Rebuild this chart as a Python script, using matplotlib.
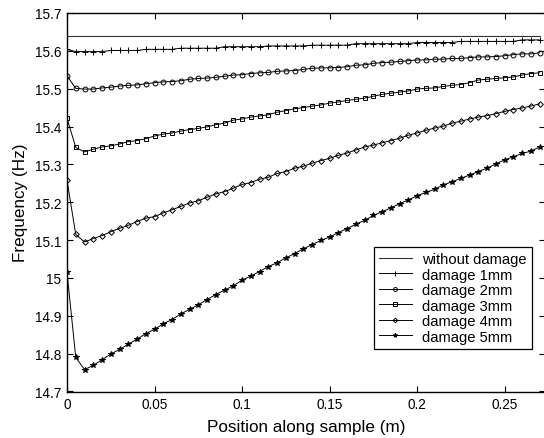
import matplotlib
matplotlib.use('Agg')
import matplotlib.pyplot as plt
from matplotlib.ticker import FormatStrFormatter, MultipleLocator

plt.rcParams['font.family'] = ['Liberation Sans', 'DejaVu Sans']

# Positions along the sample (m), 55 measurement points
position = [0.000, 0.005, 0.010, 0.015, 0.020, 0.025, 0.030, 0.035, 0.040, 0.045,
            0.050, 0.055, 0.060, 0.065, 0.070, 0.075, 0.080, 0.085, 0.090, 0.095,
            0.100, 0.105, 0.110, 0.115, 0.120, 0.125, 0.130, 0.135, 0.140, 0.145,
            0.150, 0.155, 0.160, 0.165, 0.170, 0.175, 0.180, 0.185, 0.190, 0.195,
            0.200, 0.205, 0.210, 0.215, 0.220, 0.225, 0.230, 0.235, 0.240, 0.245,
            0.250, 0.255, 0.260, 0.265, 0.270]

# Frequency without damage (Hz)
f_intact = 15.640

f_1mm = [15.604, 15.598, 15.598, 15.598, 15.598, 15.601, 15.601, 15.601, 15.601, 15.604,
         15.604, 15.604, 15.604, 15.607, 15.607, 15.607, 15.607, 15.607, 15.611, 15.611,
         15.611, 15.611, 15.611, 15.613, 15.613, 15.613, 15.613, 15.613, 15.615, 15.615,
         15.615, 15.615, 15.615, 15.619, 15.619, 15.619, 15.619, 15.619, 15.619, 15.619,
         15.622, 15.622, 15.622, 15.622, 15.622, 15.625, 15.625, 15.625, 15.625, 15.625,
         15.625, 15.625, 15.629, 15.629, 15.629]

f_2mm = [15.534, 15.501, 15.499, 15.499, 15.502, 15.504, 15.507, 15.509, 15.510, 15.513,
         15.516, 15.518, 15.519, 15.521, 15.525, 15.527, 15.528, 15.530, 15.533, 15.536,
         15.537, 15.540, 15.542, 15.543, 15.546, 15.547, 15.548, 15.551, 15.554, 15.555,
         15.555, 15.556, 15.558, 15.562, 15.563, 15.567, 15.569, 15.570, 15.572, 15.574,
         15.576, 15.576, 15.578, 15.578, 15.580, 15.580, 15.582, 15.584, 15.584, 15.585,
         15.587, 15.590, 15.592, 15.592, 15.595]

f_3mm = [15.422, 15.345, 15.333, 15.340, 15.346, 15.349, 15.354, 15.360, 15.363, 15.368,
         15.375, 15.380, 15.383, 15.388, 15.392, 15.395, 15.399, 15.405, 15.409, 15.417,
         15.420, 15.425, 15.428, 15.431, 15.438, 15.442, 15.447, 15.450, 15.454, 15.457,
         15.462, 15.465, 15.469, 15.472, 15.475, 15.480, 15.485, 15.488, 15.491, 15.494,
         15.499, 15.501, 15.502, 15.506, 15.509, 15.511, 15.516, 15.523, 15.525, 15.527,
         15.529, 15.531, 15.536, 15.540, 15.542]

f_4mm = [15.258, 15.115, 15.095, 15.104, 15.112, 15.122, 15.131, 15.139, 15.149, 15.158,
         15.162, 15.172, 15.180, 15.189, 15.198, 15.204, 15.213, 15.222, 15.228, 15.237,
         15.247, 15.252, 15.261, 15.266, 15.276, 15.281, 15.290, 15.295, 15.303, 15.310,
         15.316, 15.324, 15.330, 15.338, 15.346, 15.351, 15.357, 15.363, 15.369, 15.377,
         15.383, 15.390, 15.396, 15.401, 15.409, 15.414, 15.420, 15.425, 15.429, 15.434,
         15.440, 15.445, 15.449, 15.454, 15.460]

f_5mm = [15.015, 14.790, 14.758, 14.769, 14.784, 14.799, 14.811, 14.825, 14.838, 14.853,
         14.864, 14.879, 14.890, 14.905, 14.917, 14.929, 14.943, 14.956, 14.968, 14.979,
         14.994, 15.005, 15.017, 15.030, 15.040, 15.053, 15.064, 15.077, 15.088, 15.099,
         15.108, 15.120, 15.130, 15.142, 15.152, 15.165, 15.175, 15.185, 15.196, 15.206,
         15.217, 15.226, 15.234, 15.246, 15.254, 15.263, 15.272, 15.281, 15.290, 15.301,
         15.312, 15.320, 15.329, 15.335, 15.346]

# label, values, marker, size, face colour
series = [
    ('damage 1mm', f_1mm, '+', 4.5, 'none'),
    ('damage 2mm', f_2mm, 'o', 3.5, 'none'),
    ('damage 3mm', f_3mm, 's', 3.5, 'none'),
    ('damage 4mm', f_4mm, 'D', 2.9, 'none'),
    ('damage 5mm', f_5mm, '*', 3.8, 'black'),
]

fig = plt.figure(figsize=(5.44, 4.39), dpi=100)
ax = fig.add_axes([67 / 544, 46.5 / 439, 478 / 544, 378.5 / 439])

ax.plot(position, [f_intact] * len(position), color='#333333', lw=0.8,
        label='without damage')
for name, vals, mk, ms, fc in series:
    ax.plot(position, vals, color='black', lw=0.7, marker=mk, ms=ms,
            mfc=fc, mec='black', mew=0.7, label=name)

ax.set_xlim(0, 0.2731)
ax.set_ylim(14.7, 15.7)
ax.xaxis.set_major_locator(MultipleLocator(0.05))
ax.yaxis.set_major_locator(MultipleLocator(0.1))
ax.xaxis.set_major_formatter(FormatStrFormatter('%g'))
ax.yaxis.set_major_formatter(FormatStrFormatter('%g'))
ax.tick_params(direction='in', top=True, right=True, length=4, width=0.8,
               labelsize=9.8, pad=4)
for sp in ax.spines.values():
    sp.set_linewidth(1.0)

ax.set_xlabel('Position along sample (m)', fontsize=12.3, labelpad=5.5)
ax.set_ylabel('Frequency (Hz)', fontsize=12.3, labelpad=5)

leg = ax.legend(loc='upper left', bbox_to_anchor=(374 / 544, 1 - 248 / 439),
                bbox_transform=fig.transFigure, fontsize=10.6, frameon=True,
                fancybox=False, edgecolor='black', framealpha=1,
                labelspacing=0.1, handlelength=2.2, handletextpad=0.7,
                borderpad=0.35, borderaxespad=0, markerscale=0.8)
leg.get_frame().set_linewidth(0.9)

fig.savefig('out.png', dpi=100)
